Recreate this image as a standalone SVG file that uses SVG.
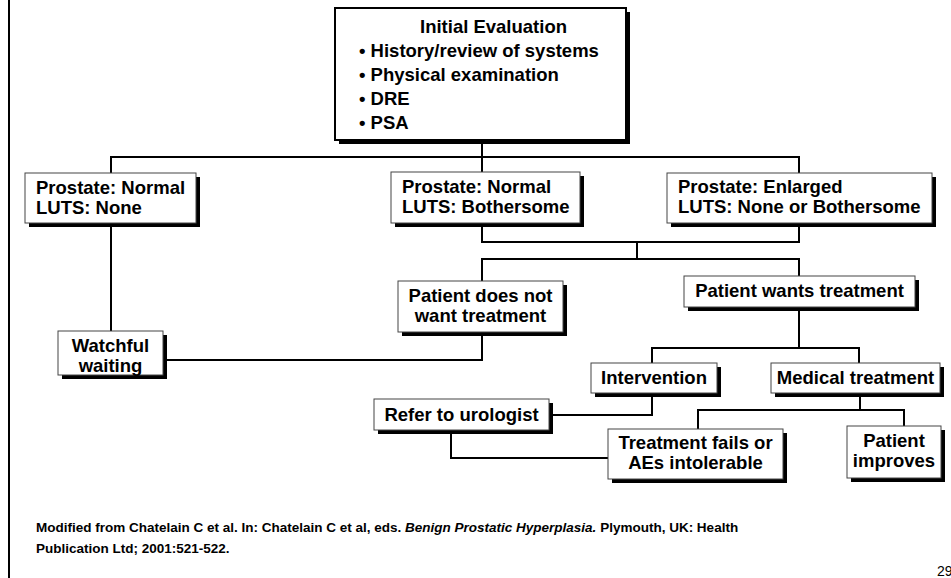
<svg xmlns="http://www.w3.org/2000/svg" width="951" height="578" viewBox="0 0 951 578">
<style>
.sh{fill:#000}
.bx{fill:#fff;stroke:#444;stroke-width:1}
.bx2{fill:#fff;stroke:#000;stroke-width:2}
.t{font-family:"Liberation Sans",Arial,sans-serif;font-weight:bold;font-size:18.5px;fill:#000}
.c{text-anchor:middle}
.ln{fill:none;stroke:#000;stroke-width:2}
.ft{font-family:"Liberation Sans",Arial,sans-serif;font-weight:bold;font-size:13.5px;fill:#000}
</style>
<rect width="951" height="578" fill="#fff"/>
<line x1="9" y1="0" x2="9" y2="578" stroke="#000" stroke-width="2"/>
<g id="connectors" class="ln">
<path d="M482,140 V172"/>
<path d="M111,173 V157 H799 V173"/>
<path d="M111,223 V331"/>
<path d="M482,223 V242 H799 V223"/>
<path d="M637,242 V259"/>
<path d="M482,281 V259 H799 V276"/>
<path d="M482,332 V360 H163"/>
<path d="M799,307 V348"/>
<path d="M652,363 V348 H859 V363"/>
<path d="M652,393 V415 H549"/>
<path d="M451,430 V458 H608"/>
<path d="M860,393 V410"/>
<path d="M698,429 V410 H904 V426"/>
</g>
<g id="n-initial">
<rect class="sh" x="339" y="12" width="291" height="132"/>
<rect class="bx2" x="335" y="8" width="291" height="132"/>
<text class="t" x="420" y="33">Initial Evaluation</text>
<text class="t" x="359" y="57">• History/review of systems</text>
<text class="t" x="359" y="81">• Physical examination</text>
<text class="t" x="359" y="105">• DRE</text>
<text class="t" x="359" y="129">• PSA</text>
</g>
<g id="n-normal-none">
<rect class="sh" x="29" y="177" width="171" height="50"/>
<rect class="bx" x="25" y="173" width="171" height="50"/>
<text class="t" x="36" y="194">Prostate: Normal</text>
<text class="t" x="36" y="214">LUTS: None</text>
</g>
<g id="n-normal-bother">
<rect class="sh" x="395" y="176" width="189" height="51"/>
<rect class="bx" x="391" y="172" width="189" height="51"/>
<text class="t" x="402" y="193">Prostate: Normal</text>
<text class="t" x="402" y="213">LUTS: Bothersome</text>
</g>
<g id="n-enlarged">
<rect class="sh" x="671" y="177" width="265" height="50"/>
<rect class="bx" x="667" y="173" width="265" height="50"/>
<text class="t" x="678" y="193">Prostate: Enlarged</text>
<text class="t" x="678" y="213">LUTS: None or Bothersome</text>
</g>
<g id="n-notwant">
<rect class="sh" x="402" y="285" width="165" height="51"/>
<rect class="bx" x="398" y="281" width="165" height="51"/>
<text class="t c" x="480.5" y="302">Patient does not</text>
<text class="t c" x="480.5" y="322">want treatment</text>
</g>
<g id="n-wants">
<rect class="sh" x="688" y="280" width="231" height="31"/>
<rect class="bx" x="684" y="276" width="231" height="31"/>
<text class="t c" x="799.5" y="297">Patient wants treatment</text>
</g>
<g id="n-watchful">
<rect class="sh" x="62" y="335" width="105" height="44"/>
<rect class="bx" x="58" y="331" width="105" height="44"/>
<text class="t c" x="110.5" y="352">Watchful</text>
<text class="t c" x="110.5" y="372">waiting</text>
</g>
<g id="n-intervention">
<rect class="sh" x="595" y="367" width="126" height="30"/>
<rect class="bx" x="591" y="363" width="126" height="30"/>
<text class="t c" x="654" y="384">Intervention</text>
</g>
<g id="n-medical">
<rect class="sh" x="775" y="367" width="169" height="30"/>
<rect class="bx" x="771" y="363" width="169" height="30"/>
<text class="t c" x="855.5" y="384">Medical treatment</text>
</g>
<g id="n-refer">
<rect class="sh" x="378" y="403" width="175" height="31"/>
<rect class="bx" x="374" y="399" width="175" height="31"/>
<text class="t c" x="461.5" y="421">Refer to urologist</text>
</g>
<g id="n-fails">
<rect class="sh" x="612" y="433" width="175" height="50"/>
<rect class="bx" x="608" y="429" width="175" height="50"/>
<text class="t c" x="695.5" y="449">Treatment fails or</text>
<text class="t c" x="695.5" y="469">AEs intolerable</text>
</g>
<g id="n-improves">
<rect class="sh" x="851" y="430" width="94" height="52"/>
<rect class="bx" x="847" y="426" width="94" height="52"/>
<text class="t c" x="894" y="447">Patient</text>
<text class="t c" x="894" y="467">improves</text>
</g>
<text class="ft" x="36" y="532">Modified from Chatelain C et al. In: Chatelain C et al, eds. <tspan font-style="italic">Benign Prostatic Hyperplasia.</tspan> Plymouth, UK: Health</text>
<text class="ft" x="36" y="553">Publication Ltd; 2001:521-522.</text>
<text x="937" y="576" font-family="Liberation Sans,Arial,sans-serif" font-size="14" fill="#000">29</text>
</svg>
